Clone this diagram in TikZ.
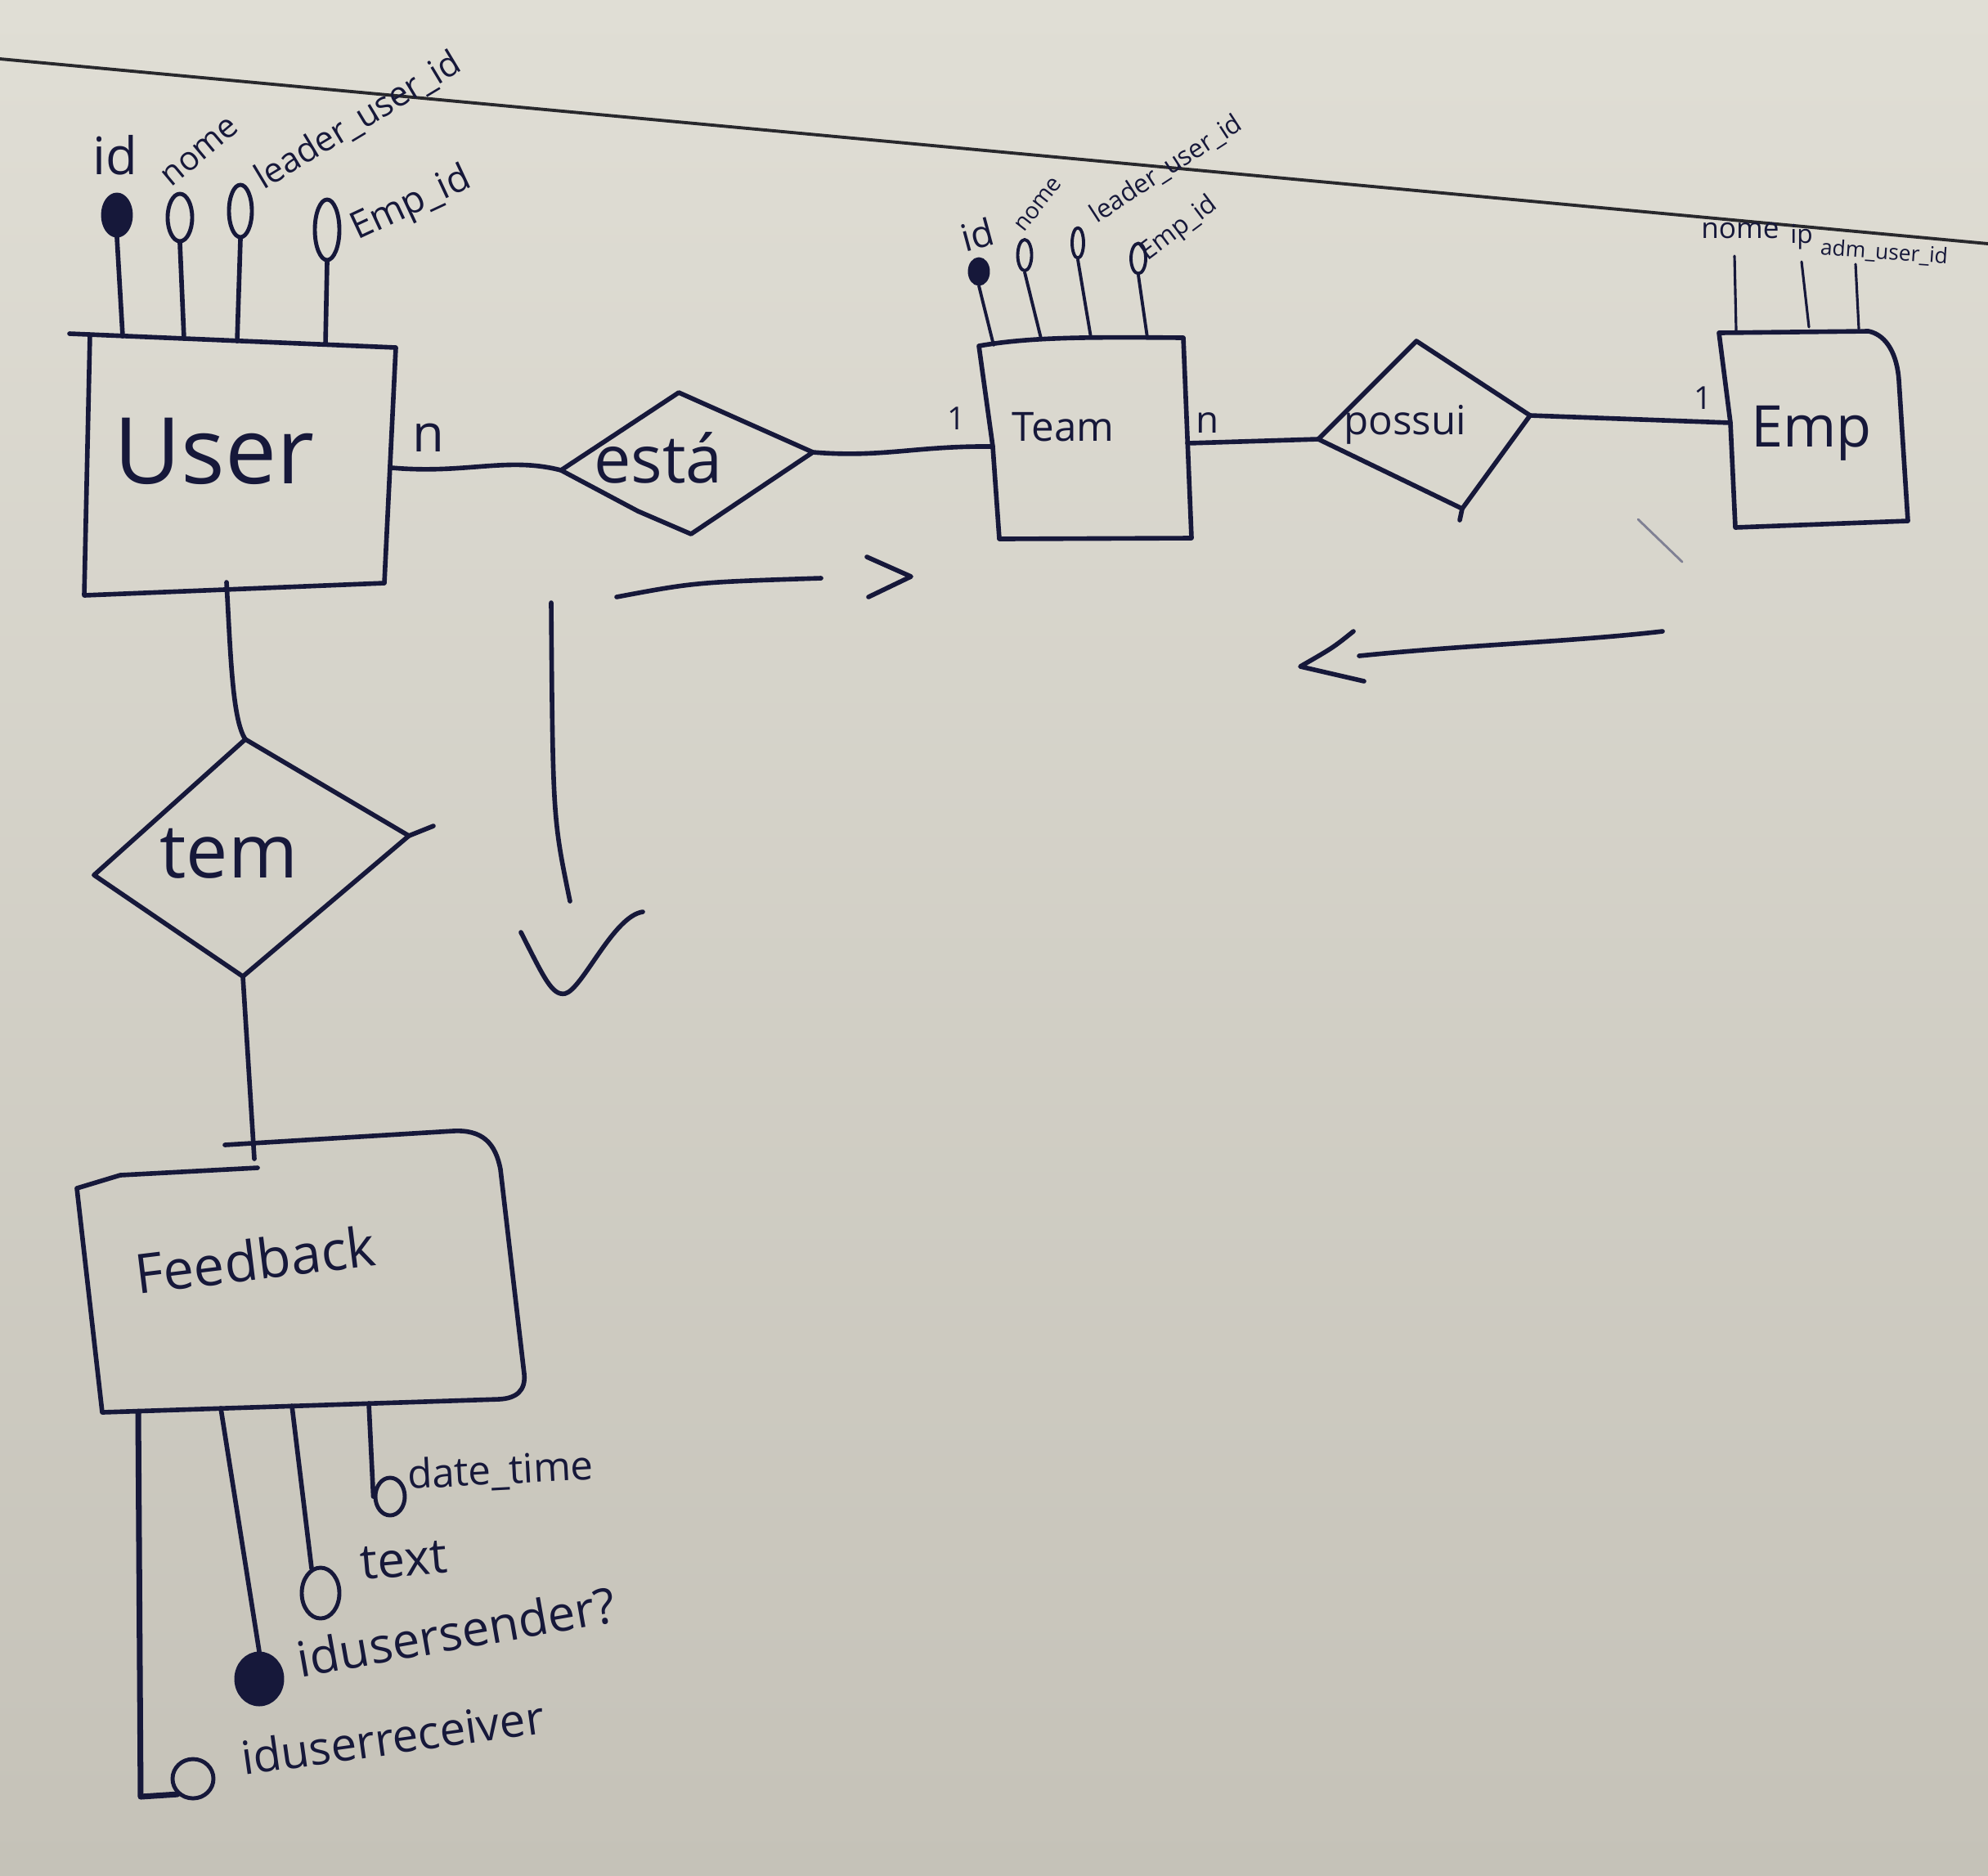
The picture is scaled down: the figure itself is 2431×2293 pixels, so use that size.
\documentclass[tikz,border=0pt]{standalone}
\usepackage{fontspec}
\setmainfont{Open Sans}
\usetikzlibrary{shapes.geometric}
\definecolor{ink}{RGB}{22,24,58}
\definecolor{boardtop}{RGB}{224,222,213}
\definecolor{boardbot}{RGB}{197,194,184}
\definecolor{edgeline}{RGB}{40,40,44}
\begin{document}
\begin{tikzpicture}[x=0.01cm,y=-0.01cm,line cap=round,line join=round,
  pen/.style={draw=ink,line width=1.6pt},
  thinpen/.style={draw=ink,line width=1.1pt},
  hand/.style={text=ink,inner sep=0pt},
  fs/.style={font=\fontsize{#1pt}{#1pt}\selectfont},
  lolo/.style={ellipse,draw=ink,line width=1.4pt,inner sep=0pt},
  lolofill/.style={lolo,fill=ink}]
% board
\shade[top color=boardtop,bottom color=boardbot] (0,0) rectangle (2431,2293);
\useasboundingbox (0,0) rectangle (2431,2293);
\coordinate (bl1) at (0,72);
\coordinate (bl2) at (2431,298);
\draw[draw=edgeline,line width=1.1pt] (bl1) -- (bl2);

% ---------- User ----------
\coordinate (u-tl0) at (85,408);
\coordinate (u-tl) at (110,409);
\coordinate (u-tr) at (484,425);
\coordinate (u-br) at (470,713);
\coordinate (u-bl) at (103,728);
\draw[pen] (u-tl0) -- (u-tr) -- (u-br) -- (u-bl) -- (u-tl);
\node[hand,fs=32] (tUser) at (262,552) {User};
\coordinate (u-e) at (479,572);
\coordinate (u-s) at (277,712);

% User attributes
\coordinate (ua1) at (150,411);
\coordinate (ua2) at (225,414);
\coordinate (ua3) at (290,417);
\coordinate (ua4) at (398,421);
\node[lolofill,minimum width=0.34cm,minimum height=0.50cm] (ua1h) at (143,263) {};
\node[lolo,minimum width=0.30cm,minimum height=0.58cm] (ua2h) at (220,266) {};
\node[lolo,minimum width=0.28cm,minimum height=0.64cm] (ua3h) at (294,258) {};
\node[lolo,minimum width=0.30cm,minimum height=0.74cm] (ua4h) at (400,281) {};
\draw[pen] (ua1) -- (ua1h.south);
\draw[pen] (ua2) -- (ua2h.south);
\draw[pen] (ua3) -- (ua3h.south);
\draw[pen] (ua4) -- (ua4h.south);
\node[hand,fs=18] (lu1) at (141,190) {id};
\node[hand,fs=11.5,rotate=40] (lu2) at (245,186) {nome};
\node[hand,fs=12,rotate=31] (lu3) at (438,148) {leader\_user\_id};
\node[hand,fs=13,rotate=25] (lu4) at (503,250) {Emp\_id};

% ---------- está ----------
\coordinate (est-l) at (686,575);
\coordinate (est-t) at (830,480);
\coordinate (est-r) at (994,553);
\coordinate (est-b) at (845,653);
\coordinate (est-m) at (780,625);
\draw[pen] (est-l) -- (est-t) -- (est-r) -- (est-b) -- (est-m) -- (est-l);
\node[hand,fs=23] (tEsta) at (805,560) {está};
\draw[pen] (u-e) .. controls (570,580) and (620,558) .. (est-l);
\node[hand,fs=18] (nUser) at (524,535) {n};

% ---------- Team ----------
\coordinate (t-tl) at (1197,423);
\coordinate (t-tr) at (1447,413);
\coordinate (t-br) at (1457,658);
\coordinate (t-bl) at (1222,659);
\coordinate (t-w) at (1214,546);
\coordinate (t-e) at (1452,542);
\draw[pen] (t-tl) .. controls (1260,412) and (1330,412) .. (t-tr) -- (t-br) -- (t-bl) -- (t-w) -- (t-tl);
\node[hand,fs=14] (tTeam) at (1300,522) {Team};
\draw[pen] (est-r) .. controls (1080,560) and (1120,545) .. (t-w);
\node[hand,fs=11] (oneTeam) at (1170,512) {1};
\node[hand,fs=13] (nTeam) at (1477,517) {n};

% Team attributes
\coordinate (ta1) at (1215,422);
\coordinate (ta2) at (1273,414);
\coordinate (ta3) at (1334,413);
\coordinate (ta4) at (1403,413);
\node[lolofill,minimum width=0.22cm,minimum height=0.30cm] (ta1h) at (1197,332) {};
\node[lolo,line width=1.1pt,minimum width=0.17cm,minimum height=0.38cm] (ta2h) at (1253,312) {};
\node[lolo,line width=1.1pt,minimum width=0.14cm,minimum height=0.37cm] (ta3h) at (1318,297) {};
\node[lolo,line width=1.1pt,minimum width=0.18cm,minimum height=0.37cm] (ta4h) at (1392,316) {};
\draw[thinpen] (ta1) -- (ta1h.south);
\draw[thinpen] (ta2) -- (ta2h.south);
\draw[thinpen] (ta3) -- (ta3h.south);
\draw[thinpen] (ta4) -- (ta4h.south);
\node[hand,fs=13,rotate=15] (lt1) at (1195,287) {id};
\node[hand,fs=8,rotate=52] (lt2) at (1270,250) {nome};
\node[hand,fs=9,rotate=33] (lt3) at (1426,207) {leader\_user\_id};
\node[hand,fs=9,rotate=37] (lt4) at (1442,280) {Emp\_id};

% ---------- possui ----------
\coordinate (pos-l) at (1612,537);
\coordinate (pos-t) at (1732,417);
\coordinate (pos-r) at (1871,508);
\coordinate (pos-b) at (1788,622);
\coordinate (pos-tail) at (1785,636);
\draw[pen] (pos-l) -- (pos-t) -- (pos-r) -- (pos-b) -- (pos-l);
\draw[pen] (pos-b) -- (pos-tail);
\node[hand,fs=14] (tPossui) at (1718,519) {possui};
\draw[pen] (t-e) -- (pos-l);

% ---------- Emp ----------
\coordinate (e-tl) at (2102,407);
\coordinate (e-tr) at (2285,405);
\coordinate (e-r) at (2322,465);
\coordinate (e-br) at (2333,637);
\coordinate (e-bl) at (2122,645);
\coordinate (e-w) at (2116,517);
\draw[pen] (e-tl) -- (e-tr) .. controls (2308,410) and (2320,435) .. (e-r) -- (e-br) -- (e-bl) -- (e-w) -- (e-tl);
\node[hand,fs=20] (tEmp) at (2215,530) {Emp};
\draw[pen] (pos-r) -- (e-w);
\node[hand,fs=11] (oneEmp) at (2083,487) {1};
\coordinate (em1) at (2003,635);
\coordinate (em2) at (2057,687);
\draw[draw=ink!55,line width=0.8pt] (em1) -- (em2);

% Emp attributes
\coordinate (ea1) at (2123,404);
\coordinate (ea1t) at (2121,313);
\coordinate (ea2) at (2212,400);
\coordinate (ea2t) at (2203,320);
\coordinate (ea3) at (2273,402);
\coordinate (ea3t) at (2269,323);
\draw[thinpen,line width=0.9pt] (ea1) -- (ea1t);
\draw[thinpen,line width=0.9pt] (ea2) -- (ea2t);
\draw[thinpen,line width=0.9pt] (ea3) -- (ea3t);
\node[hand,fs=10] (le1) at (2128,282) {nome};
\node[hand,fs=9] (le2) at (2203,290) {ip};
\node[hand,fs=7.5,rotate=-4] (le3) at (2304,309) {adm\_user\_id};

% ---------- tem ----------
\coordinate (tem-l) at (115,1070);
\coordinate (tem-t) at (300,904);
\coordinate (tem-r) at (500,1022);
\coordinate (tem-f) at (530,1010);
\coordinate (tem-b) at (297,1194);
\draw[pen] (tem-l) -- (tem-t) -- (tem-r) -- (tem-b) -- (tem-l);
\draw[pen] (tem-r) -- (tem-f);
\node[hand,fs=26] (tTem) at (280,1044) {tem};
\draw[pen] (u-s) .. controls (282,800) and (284,880) .. (tem-t);

% ---------- Feedback ----------
\coordinate (fb-l1) at (94,1453);
\coordinate (fb-l2) at (147,1437);
\coordinate (fb-l3) at (315,1428);
\coordinate (fb-t1) at (275,1400);
\coordinate (fb-t2) at (554,1383);
\coordinate (fb-r1) at (612,1430);
\coordinate (fb-r2) at (641,1680);
\coordinate (fb-b1) at (610,1711);
\coordinate (fb-bl) at (125,1727);
\coordinate (fb-top) at (311,1417);
\draw[pen] (fb-l3) -- (fb-l2) -- (fb-l1) -- (fb-bl) -- (fb-b1) .. controls (632,1710) and (643,1700) .. (fb-r2) -- (fb-r1) .. controls (606,1398) and (590,1381) .. (fb-t2) -- (fb-t1);
\node[hand,fs=19,rotate=7] (tFeedback) at (312,1540) {Feedback};
\draw[pen] (tem-b) -- (fb-top);

% Feedback attributes
\coordinate (fa1) at (169,1726);
\coordinate (fa1b) at (172,2197);
\coordinate (fa2) at (270,1722);
\coordinate (fa3) at (357,1719);
\coordinate (fa4) at (451,1716);
\node[lolo,minimum width=0.50cm,minimum height=0.48cm] (fa1h) at (236,2175) {};
\node[lolofill,minimum width=0.56cm,minimum height=0.62cm] (fa2h) at (317,2053) {};
\node[lolo,minimum width=0.46cm,minimum height=0.62cm] (fa3h) at (392,1948) {};
\node[lolo,minimum width=0.36cm,minimum height=0.46cm] (fa4h) at (477,1830) {};
\draw[pen,line width=2pt] (fa1) -- (fa1b) -- (fa1h.225);
\draw[pen] (fa2) -- (fa2h.north);
\draw[pen] (fa3) -- (fa3h.110);
\draw[pen] (fa4) -- (fa4h.west);
\node[hand,fs=14,rotate=3] (lf4) at (612,1800) {date\_time};
\node[hand,fs=17,rotate=5] (lf3) at (494,1908) {text};
\node[hand,fs=17,rotate=10] (lf2) at (558,1995) {idusersender?};
\node[hand,fs=16,rotate=8] (lf1) at (480,2124) {iduserreceiver};

% ---------- free arrows ----------
\coordinate (a1s) at (754,730);
\coordinate (a1e) at (1004,707);
\coordinate (a1c1) at (1060,681);
\coordinate (a1c2) at (1114,705);
\coordinate (a1c3) at (1062,730);
\draw[pen] (a1s) .. controls (850,712) .. (a1e);
\draw[pen] (a1c1) -- (a1c2) -- (a1c3);
\coordinate (a2s) at (674,737);
\coordinate (a2e) at (697,1102);
\coordinate (a2v1) at (637,1140);
\coordinate (a2v2) at (691,1215);
\coordinate (a2v3) at (786,1115);
\draw[pen] (a2s) .. controls (676,1000) .. (a2e);
\draw[pen] (a2v1) .. controls (665,1195) and (675,1218) .. (a2v2) .. controls (712,1210) and (750,1120) .. (a2v3);
\coordinate (a3s) at (2033,772);
\coordinate (a3e) at (1662,802);
\coordinate (a3c1) at (1655,772);
\coordinate (a3c2) at (1590,815);
\coordinate (a3c3) at (1668,833);
\draw[pen] (a3s) .. controls (1920,785) and (1800,788) .. (a3e);
\draw[pen] (a3c1) .. controls (1630,792) .. (a3c2) -- (a3c3);
\end{tikzpicture}
\end{document}
